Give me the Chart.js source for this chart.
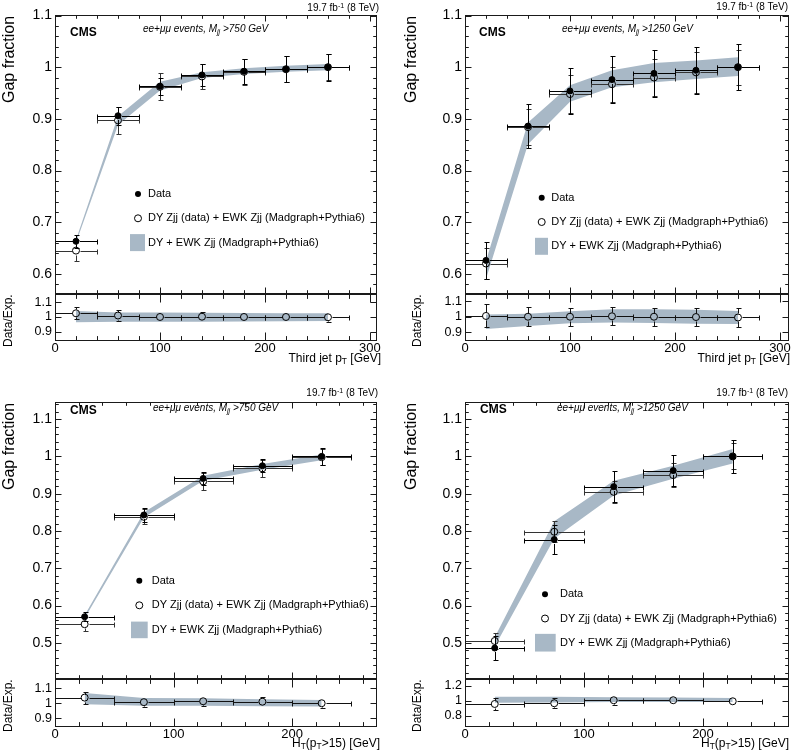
<!DOCTYPE html>
<html>
<head>
<meta charset="utf-8">
<title>Gap fraction</title>
<script src="https://cdn.jsdelivr.net/npm/chart.js@4.4.1/dist/chart.umd.min.js"></script>
<style>
  html, body { margin: 0; padding: 0; background: #fff; overflow: hidden; }
  body { position: relative; width: 793px; height: 754px; font-family: "Liberation Sans", Arial, sans-serif; color: #000; }
  canvas { position: absolute; }
  .t { position: absolute; white-space: nowrap; line-height: 1; }
  .rot { transform: rotate(-90deg); transform-origin: 0 0; }
  .sub { font-size: 0.7em; position: relative; top: 0.35em; }
  .sup { font-size: 0.7em; position: relative; top: -0.45em; }
</style>
</head>
<body>
<script>
// bins
const jetCenters = [20, 60, 100, 140, 180, 220, 260];
const jetHalfWidth = 20;
const htCenters = [25, 75, 125, 175, 225];
const htHalfWidth = 25;

// tick labels
const jetTicks = [0, 100, 200, 300];
const htTicks = [0, 100, 200];
const gapTicksTop = [0.6, 0.7, 0.8, 0.9, 1.0, 1.1];
const gapTicksBottom = [0.5, 0.6, 0.7, 0.8, 0.9, 1.0, 1.1];
const ratioTicks = [0.9, 1.0, 1.1];
const ratioTicksWide = [0.8, 1.0, 1.2];

const legendLabels = ['Data', 'DY Zjj (data) + EWK Zjj (Madgraph+Pythia6)', 'DY + EWK Zjj (Madgraph+Pythia6)'];

// third jet pT, Mjj > 750 GeV
const jet750Data = [0.663, 0.906, 0.963, 0.985, 0.992, 0.996, 1.000];
const jet750DataErr = [0.013, 0.017, 0.017, 0.022, 0.024, 0.025, 0.026];
const jet750Exp = [0.645, 0.897, 0.962, 0.982, 0.991, 0.996, 1.000];
const jet750ExpErr = [0.020, 0.026, 0.026, 0.025, 0.025, 0.025, 0.025];
const jet750McLo = [0.660, 0.888, 0.955, 0.979, 0.987, 0.991, 0.994];
const jet750McHi = [0.666, 0.905, 0.972, 0.990, 0.998, 1.003, 1.006];
const jet750Ratio = [1.025, 1.010, 1.000, 1.002, 1.000, 1.000, 0.998];
const jet750RatioErr = [0.040, 0.035, 0.030, 0.030, 0.030, 0.030, 0.030];
const jet750RatioLo = [0.965, 0.967, 0.967, 0.968, 0.970, 0.971, 0.972];
const jet750RatioHi = [1.040, 1.030, 1.030, 1.028, 1.027, 1.026, 1.025];

// third jet pT, Mjj > 1250 GeV
const jet1250Data = [0.626, 0.886, 0.954, 0.976, 0.988, 0.994, 1.000];
const jet1250DataErr = [0.035, 0.043, 0.045, 0.045, 0.045, 0.045, 0.045];
const jet1250Exp = [0.620, 0.884, 0.948, 0.967, 0.980, 0.990, 1.000];
const jet1250ExpErr = [0.030, 0.035, 0.037, 0.034, 0.035, 0.040, 0.034];
const jet1250McLo = [0.590, 0.851, 0.933, 0.961, 0.971, 0.977, 0.983];
const jet1250McHi = [0.625, 0.893, 0.965, 0.994, 1.008, 1.013, 1.019];
const jet1250Ratio = [1.005, 1.000, 1.000, 1.003, 1.000, 0.998, 0.995];
const jet1250RatioErr = [0.075, 0.062, 0.060, 0.058, 0.058, 0.058, 0.060];
const jet1250RatioLo = [0.920, 0.940, 0.958, 0.962, 0.960, 0.955, 0.952];
const jet1250RatioHi = [1.015, 1.020, 1.035, 1.048, 1.048, 1.045, 1.037];

// HT(pT>15), Mjj > 750 GeV
const ht750Data = [0.570, 0.843, 0.941, 0.975, 1.000];
const ht750DataErr = [0.012, 0.018, 0.018, 0.018, 0.022];
const ht750Exp = [0.550, 0.838, 0.933, 0.968, 0.998];
const ht750ExpErr = [0.018, 0.020, 0.022, 0.022, 0.022];
const ht750McLo = [0.566, 0.836, 0.935, 0.964, 0.990];
const ht750McHi = [0.574, 0.850, 0.948, 0.980, 1.005];
const ht750Ratio = [1.037, 1.007, 1.013, 1.010, 1.000];
const ht750RatioErr = [0.040, 0.030, 0.030, 0.030, 0.030];
const ht750RatioLo = [0.993, 0.984, 0.983, 0.980, 0.978];
const ht750RatioHi = [1.067, 1.035, 1.033, 1.027, 1.022];

// HT(pT>15), Mjj > 1250 GeV
const ht1250Data = [0.486, 0.777, 0.919, 0.962, 1.000];
const ht1250DataErr = [0.033, 0.040, 0.042, 0.042, 0.045];
const ht1250Exp = [0.505, 0.798, 0.905, 0.950, 1.000];
const ht1250ExpErr = [0.022, 0.028, 0.030, 0.032, 0.035];
const ht1250McLo = [0.490, 0.780, 0.895, 0.940, 0.981];
const ht1250McHi = [0.515, 0.826, 0.935, 0.975, 1.020];
const ht1250Ratio = [0.960, 0.970, 1.010, 1.010, 0.996];
const ht1250RatioErr = [0.080, 0.070, 0.060, 0.055, 0.050];
const ht1250RatioLo = [0.975, 0.980, 0.985, 0.985, 0.985];
const ht1250RatioHi = [1.055, 1.055, 1.050, 1.045, 1.040];

const FONT = '"Liberation Sans", Arial, sans-serif';
const BAND = '#a8b8c6';
const PAD = 14, RIGHT = 22, YAXIS = 55, XAXIS = 24;

Chart.defaults.font.family = FONT;
Chart.defaults.color = '#000';

const jetTitle = 'Third jet p<span class="sub">T</span> [GeV]';
const htTitle = 'H<span class="sub">T</span>(p<span class="sub">T</span>&gt;15) [GeV]';

const panels = [
  { x: jetCenters, half: jetHalfWidth, data: jet750Data, dataErr: jet750DataErr, exp: jet750Exp, expErr: jet750ExpErr,
    mcLo: jet750McLo, mcHi: jet750McHi, ratio: jet750Ratio, ratioErr: jet750RatioErr, ratioLo: jet750RatioLo, ratioHi: jet750RatioHi,
    cut: '750', xTitle: jetTitle, xTicks: jetTicks, yTicks: gapTicksTop, rTicks: ratioTicks,
    L: 55, R: 377, T: 15, B: 294, RB: 341, xMax: 306.7, yMin: 0.561, yMax: 1.101, rMin: 0.837, rMax: 1.156, rStep: 0.1,
    leg: { x: 83, y: 179, gap: 24.3, dx: 10, rx: -8, rw: 15, rh: 17 },
    cms: [70, 26], tag: [143, 24], lumi: [379, 3], yTitle: [1, 103], rTitle: [2, 347], xT: [381, 351.5] },
  { x: jetCenters, half: jetHalfWidth, data: jet1250Data, dataErr: jet1250DataErr, exp: jet1250Exp, expErr: jet1250ExpErr,
    mcLo: jet1250McLo, mcHi: jet1250McHi, ratio: jet1250Ratio, ratioErr: jet1250RatioErr, ratioLo: jet1250RatioLo, ratioHi: jet1250RatioHi,
    cut: '1250', xTitle: jetTitle, xTicks: jetTicks, yTicks: gapTicksTop, rTicks: ratioTicks,
    L: 465, R: 789, T: 15, B: 294, RB: 341, xMax: 308.6, yMin: 0.561, yMax: 1.101, rMin: 0.842, rMax: 1.148, rStep: 0.1,
    leg: { x: 76.7, y: 182.7, gap: 24.3, dx: 9.5, rx: -6.7, rw: 13, rh: 17 },
    cms: [479, 26], tag: [562, 24], lumi: [788, 2], yTitle: [403, 103], rTitle: [411, 347], xT: [790, 351.5] },
  { x: htCenters, half: htHalfWidth, data: ht750Data, dataErr: ht750DataErr, exp: ht750Exp, expErr: ht750ExpErr,
    mcLo: ht750McLo, mcHi: ht750McHi, ratio: ht750Ratio, ratioErr: ht750RatioErr, ratioLo: ht750RatioLo, ratioHi: ht750RatioHi,
    cut: '750', xTitle: htTitle, xTicks: htTicks, yTicks: gapTicksBottom, rTicks: ratioTicks,
    L: 55, R: 377, T: 402, B: 679, RB: 727, xMax: 271.7, yMin: 0.403, yMax: 1.146, rMin: 0.843, rMax: 1.16, rStep: 0.1,
    leg: { x: 84.3, y: 178.7, gap: 24.6, dx: 12.4, rx: -8.3, rw: 16.7, rh: 16.6 },
    cms: [70, 403.5], tag: [153, 403], lumi: [378, 388], yTitle: [1, 490], rTitle: [2, 732], xT: [380, 736.5] },
  { x: htCenters, half: htHalfWidth, data: ht1250Data, dataErr: ht1250DataErr, exp: ht1250Exp, expErr: ht1250ExpErr,
    mcLo: ht1250McLo, mcHi: ht1250McHi, ratio: ht1250Ratio, ratioErr: ht1250RatioErr, ratioLo: ht1250RatioLo, ratioHi: ht1250RatioHi,
    cut: '1250', xTitle: htTitle, xTicks: htTicks, yTicks: gapTicksBottom, rTicks: ratioTicksWide,
    L: 465, R: 789, T: 402, B: 679, RB: 727, xMax: 272.3, yMin: 0.403, yMax: 1.146, rMin: 0.653, rMax: 1.293, rStep: 0.2,
    leg: { x: 80, y: 192.3, gap: 24.2, dx: 15, rx: -10, rw: 20.7, rh: 17.7 },
    cms: [480, 403], tag: [557, 403], lumi: [788, 388], yTitle: [403, 490], rTitle: [411, 732], xT: [789, 736.5] }
];

// frame with inward ticks on all four sides, ROOT style
const frameTicks = {
  id: 'frameTicks',
  afterDraw(chart, args, o) {
    const { ctx, chartArea: a } = chart;
    const xs = chart.scales.x, ys = chart.scales.y;
    const L = Math.round(a.left) + 0.5, R = Math.round(a.right) - 0.5;
    const T = Math.round(a.top) + 0.5, B = Math.round(a.bottom) - 0.5;
    const steps = (min, max, step) => {
      const out = [];
      for (let i = Math.ceil(min / step - 1e-6); i <= Math.floor(max / step + 1e-6); i++) out.push(i * step);
      return out;
    };
    const isMajor = (v, m) => Math.abs(v / m - Math.round(v / m)) < 1e-6;
    ctx.save();
    ctx.strokeStyle = '#1a1a1a';
    ctx.lineWidth = 1;
    ctx.beginPath();
    steps(xs.min, xs.max, o.xMinor).forEach(v => {
      const len = isMajor(v, o.xMajor) ? o.xLen : o.xLen * 0.55;
      const px = Math.round(xs.getPixelForValue(v)) + 0.5;
      ctx.moveTo(px, B); ctx.lineTo(px, B - len);
      ctx.moveTo(px, T); ctx.lineTo(px, T + len);
    });
    steps(ys.min, ys.max, o.yMinor).forEach(v => {
      const len = isMajor(v, o.yMajor) ? o.yLen : o.yLen * 0.55;
      const py = Math.round(ys.getPixelForValue(v)) + 0.5;
      ctx.moveTo(L, py); ctx.lineTo(L + len, py);
      ctx.moveTo(R, py); ctx.lineTo(R - len, py);
    });
    ctx.stroke();
    ctx.strokeRect(L, T, R - L, B - T);
    ctx.restore();
  }
};

// x/y error bars, drawn just before each point dataset
const errorBars = {
  id: 'errorBars',
  beforeDatasetDraw(chart, args) {
    const ds = chart.data.datasets[args.index];
    if (!ds.errY) return;
    const { ctx } = chart;
    const xs = chart.scales.x, ys = chart.scales.y;
    const r = ds.pointRadius + 0.5, cap = 2;
    const rd = v => Math.round(v) + 0.5;
    ctx.save();
    ctx.strokeStyle = ds.errColor;
    ctx.lineWidth = 1;
    ctx.beginPath();
    ds.data.forEach((pt, i) => {
      const px = rd(xs.getPixelForValue(pt.x)), py = rd(ys.getPixelForValue(pt.y));
      const yHi = rd(ys.getPixelForValue(pt.y + ds.errY[i])), yLo = rd(ys.getPixelForValue(pt.y - ds.errY[i]));
      const xLo = rd(xs.getPixelForValue(pt.x - ds.errX)), xHi = rd(xs.getPixelForValue(pt.x + ds.errX));
      if (yHi < py - r) { ctx.moveTo(px, py - r); ctx.lineTo(px, yHi); ctx.moveTo(px - cap, yHi); ctx.lineTo(px + cap + 1, yHi); }
      if (yLo > py + r) { ctx.moveTo(px, py + r); ctx.lineTo(px, yLo); ctx.moveTo(px - cap, yLo); ctx.lineTo(px + cap + 1, yLo); }
      ctx.moveTo(xLo, py); ctx.lineTo(px - r, py);
      ctx.moveTo(px + r, py); ctx.lineTo(xHi, py);
      ctx.moveTo(xLo, py - cap); ctx.lineTo(xLo, py + cap + 1);
      ctx.moveTo(xHi, py - cap); ctx.lineTo(xHi, py + cap + 1);
    });
    ctx.stroke();
    ctx.restore();
  }
};

// legend placed inside the plot area
const insideLegend = {
  id: 'insideLegend',
  afterDraw(chart, args, o) {
    const { ctx, chartArea: a } = chart;
    const ds = chart.data.datasets;
    const x0 = a.left + o.x, y0 = a.top + o.y;
    ctx.save();
    ctx.font = '11px ' + FONT;
    ctx.textBaseline = 'middle';
    ctx.fillStyle = '#000';
    ctx.beginPath(); ctx.arc(x0, y0, 3, 0, Math.PI * 2); ctx.fill();
    ctx.fillText(ds[3].label, x0 + o.dx, y0);
    ctx.strokeStyle = '#000'; ctx.lineWidth = 1;
    ctx.beginPath(); ctx.arc(x0, y0 + o.gap, 3.5, 0, Math.PI * 2); ctx.stroke();
    ctx.fillText(ds[2].label, x0 + o.dx, y0 + o.gap);
    ctx.fillText(ds[1].label, x0 + o.dx, y0 + 2 * o.gap);
    ctx.fillStyle = BAND;
    ctx.fillRect(x0 + o.rx, y0 + 2 * o.gap - o.rh / 2, o.rw, o.rh);
    ctx.restore();
  }
};

function addCanvas(left, top, w, h) {
  const c = document.createElement('canvas');
  c.width = w; c.height = h;
  Object.assign(c.style, { left: left + 'px', top: top + 'px', width: w + 'px', height: h + 'px' });
  document.body.appendChild(c);
  return c;
}

function yAxis(min, max, values, size) {
  return {
    type: 'linear', position: 'left', min, max,
    afterBuildTicks: s => { s.ticks = values.map(value => ({ value })); },
    afterFit: s => { s.width = YAXIS; },
    grid: { display: false, drawTicks: false },
    border: { display: false },
    ticks: { autoSkip: false, padding: 3, color: '#000',
      font: { size, family: FONT }, callback: v => String(Math.round(v * 10) / 10) }
  };
}

const bandStyle = { borderWidth: 0, borderColor: 'rgba(0,0,0,0)', backgroundColor: BAND, pointRadius: 0, tension: 0, order: 3 };
const baseOpts = { responsive: false, animation: false, events: [] };

function mainChart(p) {
  const pts = ys => p.x.map((x, i) => ({ x, y: ys[i] }));
  const c = addCanvas(p.L - YAXIS, p.T - PAD, p.R - p.L + YAXIS + RIGHT, p.B - p.T + 2 * PAD);
  new Chart(c, {
    type: 'line',
    data: {
      datasets: [
        { ...bandStyle, label: '', data: pts(p.mcLo), fill: false },
        { ...bandStyle, label: legendLabels[2], data: pts(p.mcHi), fill: '-1' },
        { label: legendLabels[1], data: pts(p.exp), showLine: false, pointRadius: 3.5, pointBorderWidth: 1,
          pointBackgroundColor: 'rgba(0,0,0,0)', pointBorderColor: '#000', errY: p.expErr, errX: p.half, errColor: '#333', order: 1 },
        { label: legendLabels[0], data: pts(p.data), showLine: false, pointRadius: 3, pointBorderWidth: 1,
          pointBackgroundColor: '#000', pointBorderColor: '#000', errY: p.dataErr, errX: p.half, errColor: '#000', order: 0 }
      ]
    },
    options: {
      ...baseOpts,
      layout: { padding: { top: PAD, right: RIGHT, bottom: PAD, left: 0 } },
      plugins: {
        legend: { display: false }, tooltip: { enabled: false },
        frameTicks: { xMinor: 20, xMajor: 100, xLen: 6, yMinor: 0.02, yMajor: 0.1, yLen: 6 },
        insideLegend: p.leg
      },
      scales: {
        x: { type: 'linear', min: 0, max: p.xMax, display: false },
        y: yAxis(p.yMin, p.yMax, p.yTicks, 14)
      }
    },
    plugins: [errorBars, frameTicks, insideLegend]
  });
}

function ratioChart(p) {
  const pts = ys => p.x.map((x, i) => ({ x, y: ys[i] }));
  const c = addCanvas(p.L - YAXIS, p.B - PAD, p.R - p.L + YAXIS + RIGHT, p.RB - p.B + PAD + XAXIS);
  new Chart(c, {
    type: 'line',
    data: {
      datasets: [
        { ...bandStyle, label: '', data: pts(p.ratioLo), fill: false },
        { ...bandStyle, label: '', data: pts(p.ratioHi), fill: '-1' },
        { label: 'Data/Exp.', data: pts(p.ratio), showLine: false, pointRadius: 3.5, pointBorderWidth: 1,
          pointBackgroundColor: 'rgba(0,0,0,0)', pointBorderColor: '#000', errY: p.ratioErr, errX: p.half, errColor: '#111', order: 0 }
      ]
    },
    options: {
      ...baseOpts,
      layout: { padding: { top: PAD, right: RIGHT, bottom: 0, left: 0 } },
      plugins: {
        legend: { display: false }, tooltip: { enabled: false },
        frameTicks: { xMinor: 20, xMajor: 100, xLen: 8, yMinor: p.rStep, yMajor: p.rStep, yLen: 6 },
        insideLegend: false
      },
      scales: {
        x: {
          type: 'linear', min: 0, max: p.xMax,
          afterBuildTicks: s => { s.ticks = p.xTicks.map(value => ({ value })); },
          afterFit: s => { s.height = XAXIS; },
          grid: { display: false, drawTicks: false }, border: { display: false },
          ticks: { autoSkip: false, maxRotation: 0, padding: 0, color: '#000', font: { size: 13, family: FONT },
            callback: v => String(Math.round(v)) }
        },
        y: yAxis(p.rMin, p.rMax, p.rTicks, 12.5)
      }
    },
    plugins: [errorBars, frameTicks]
  });
}

function text(html, css, cls) {
  const d = document.createElement('div');
  d.className = 't' + (cls ? ' ' + cls : '');
  d.innerHTML = html;
  Object.assign(d.style, css);
  document.body.appendChild(d);
}

panels.forEach(p => {
  mainChart(p);
  ratioChart(p);
  text('19.7 fb<span class="sup">-1</span> (8 TeV)', { right: (793 - p.lumi[0]) + 'px', top: p.lumi[1] + 'px', fontSize: '10px' });
  text('CMS', { left: p.cms[0] + 'px', top: p.cms[1] + 'px', fontSize: '12px', fontWeight: 'bold' });
  text('ee+\u03bc\u03bc events, M<span class="sub">jj</span> &gt;' + p.cut + ' GeV',
    { left: p.tag[0] + 'px', top: p.tag[1] + 'px', fontSize: '10px', fontStyle: 'italic' });
  text('Gap fraction', { left: p.yTitle[0] + 'px', top: p.yTitle[1] + 'px', fontSize: '16px' }, 'rot');
  text('Data/Exp.', { left: p.rTitle[0] + 'px', top: p.rTitle[1] + 'px', fontSize: '12px' }, 'rot');
  text(p.xTitle, { right: (793 - p.xT[0]) + 'px', top: p.xT[1] + 'px', fontSize: '12px' });
});
</script>
</body>
</html>
